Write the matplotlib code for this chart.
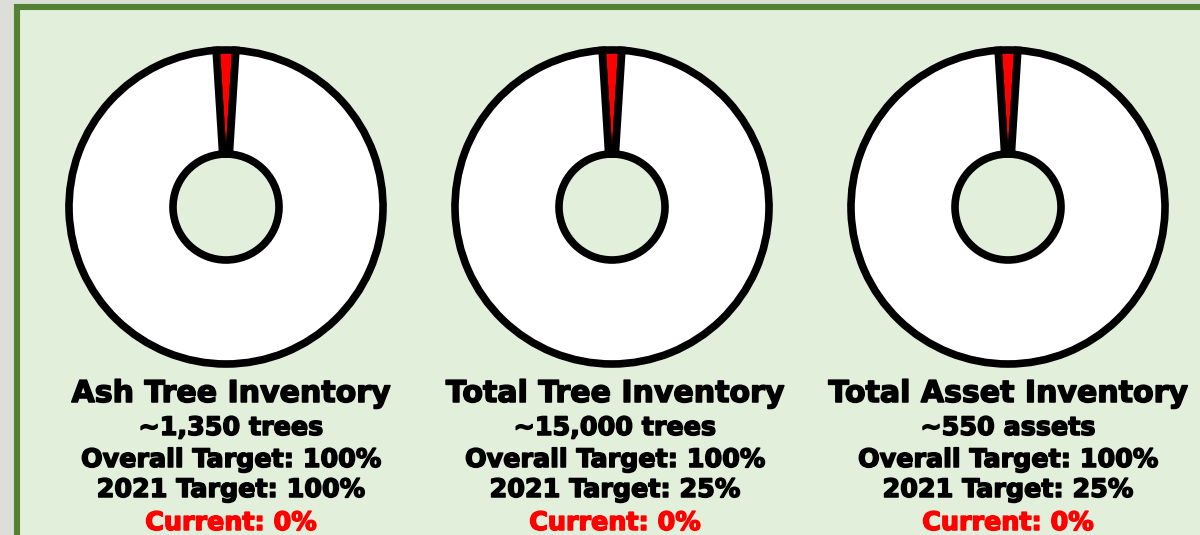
import matplotlib
matplotlib.use("Agg")
import matplotlib.pyplot as plt
import matplotlib.patheffects as pe
from matplotlib.patches import Rectangle

# chart data
titles = ["Ash Tree Inventory", "Total Tree Inventory", "Total Asset Inventory"]
counts = ["~1,350 trees", "~15,000 trees", "~550 assets"]
overall_target = [100, 100, 100]
target_2021 = [100, 25, 25]
current_pct = [0, 0, 0]
red_share = [2.0, 2.0, 2.0]   # size of the red slice as drawn (% of ring)

W, H = 1200, 535
fig = plt.figure(figsize=(W / 100, H / 100), dpi=100, facecolor="#dcdfd7")
ax = fig.add_axes([0, 0, 1, 1])

def py(y):
    # pixel row (from top) -> data y
    return H - y

# green panel
ax.add_patch(Rectangle((17, py(540)), 1250, 533, facecolor="#e2efda",
                       edgecolor="#548235", linewidth=4.4, zorder=0))

centers_x = [226, 612, 1008]
text_x = [231, 615, 1008]
cy = 207
r_out = 157
r_in = 53

for i in range(3):
    ax.pie([red_share[i], 100 - red_share[i]], colors=["#ff0000", "white"],
           startangle=90 + red_share[i] * 3.6 / 2, counterclock=False,
           radius=r_out, center=(centers_x[i], py(cy)),
           wedgeprops=dict(width=r_out - r_in, edgecolor="black",
                           linewidth=5.5))

    def put(y, s, size, color="black"):
        ax.text(text_x[i], py(y), s, fontsize=size, color=color,
                family="DejaVu Sans", weight="bold", ha="center", va="baseline",
                path_effects=[pe.withStroke(linewidth=1.1, foreground=color)])

    put(402, titles[i], 21.6)
    put(435, counts[i], 18.3)
    put(467, f"Overall Target: {overall_target[i]}%", 18.3)
    put(497, f"2021 Target: {target_2021[i]}%", 18.3)
    put(530, f"Current: {current_pct[i]}%", 18.3, "#ff0000")

ax.set_xlim(0, W)
ax.set_ylim(0, H)
ax.set_aspect("equal")
ax.axis("off")

fig.savefig("out.png", dpi=100, facecolor=fig.get_facecolor())
